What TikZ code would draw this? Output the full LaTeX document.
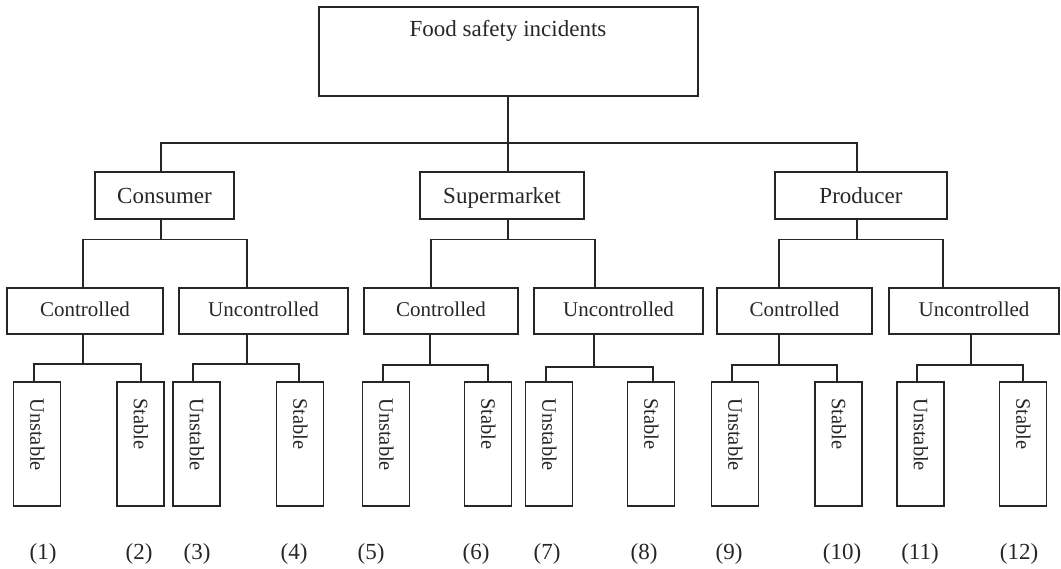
\documentclass[tikz,border=0pt]{standalone}
\usepackage{fontspec}
\setmainfont{Liberation Serif}
\definecolor{ink}{HTML}{262626}
\begin{document}
\begin{tikzpicture}[x=1pt,y=-1pt,
  box/.style={draw=ink, line width=1.6pt, inner sep=0pt, text=ink},
  topbox/.style={box, font=\fontsize{23}{27}\selectfont, minimum height=47pt,
    text height=17pt, text depth=0pt},
  midbox/.style={box, font=\fontsize{21}{25}\selectfont, minimum height=46pt,
    text height=15pt, text depth=3pt},
  leafbox/.style={box, minimum width=47pt, minimum height=124pt},
  leaftxt/.style={rotate=-90, anchor=west, inner sep=0pt, text=ink,
    font=\fontsize{20.5}{24}\selectfont},
  numtxt/.style={inner sep=0pt, text=ink, anchor=base, font=\fontsize{23}{27}\selectfont},
  conn/.style={draw=ink, line width=1.6pt}]
\useasboundingbox (0,0) rectangle (1061,569);

% top
\node[box, minimum width=379pt, minimum height=89pt] (top) at (508.5,51.5) {};
\node[inner sep=0pt, text=ink, anchor=base, font=\fontsize{23}{27}\selectfont] (toptxt) at (508,37) {Food safety incidents};

% level 1
\node[topbox, minimum width=139pt] (cons) at (164.5,195.5) {Consumer};
\node[topbox, minimum width=164pt] (sup) at (502,195.5) {Supermarket};
\node[topbox, minimum width=172pt] (prod) at (861,195.5) {Producer};

% level 2
\node[midbox, minimum width=156pt] (c1) at (85,311) {Controlled};
\node[midbox, minimum width=169pt] (u1) at (263.5,311) {Uncontrolled};
\node[midbox, minimum width=154pt] (c2) at (441,311) {Controlled};
\node[midbox, minimum width=169pt] (u2) at (618.5,311) {Uncontrolled};
\node[midbox, minimum width=155pt] (c3) at (794.5,311) {Controlled};
\node[midbox, minimum width=170pt] (u3) at (974,311) {Uncontrolled};

% level 3
\foreach \n/\x/\t in {l1/37/Unstable, l2/140.5/Stable, l3/196.5/Unstable, l4/300/Stable,
  l5/386/Unstable, l6/488/Stable, l7/549/Unstable, l8/651/Stable,
  l9/735/Unstable, l10/838.5/Stable, l11/920.5/Unstable, l12/1023/Stable}{
  \node[leafbox] (\n) at (\x,444) {};
  \node[leaftxt] (\n t) at (\x+0.5,398) {\t};
}

% numbers
\foreach \n/\x in {1/43, 2/139, 3/197, 4/294, 5/371, 6/476, 7/547, 8/644, 9/729, 10/842, 11/920, 12/1019}{
  \node[numtxt] (n\n) at (\x,559) {(\n)};
}

% junctions
\coordinate (j0) at (508,143);
\coordinate (ja) at (161,239.5);
\coordinate (jb) at (508,239.5);
\coordinate (jc) at (857,239.5);
\coordinate (k1) at (83,364);
\coordinate (k2) at (247,364);
\coordinate (k3) at (430,365);
\coordinate (k4) at (594,367);
\coordinate (k5) at (779,365);
\coordinate (k6) at (971,365);

% connectors
\draw[conn] (j0 |- top.south) -- (j0) -- (j0 |- sup.north);
\draw[conn] (ja |- cons.north) |- (j0) -| (jc |- prod.north);

\draw[conn] (ja |- cons.south) -- (ja);
\draw[conn] (c1.north -| 83,0) |- (ja) -| (u1.north -| 247,0);
\draw[conn] (jb |- sup.south) -- (jb);
\draw[conn] (c2.north -| 431,0) |- (jb) -| (u2.north -| 595,0);
\draw[conn] (jc |- prod.south) -- (jc);
\draw[conn] (c3.north -| 779,0) |- (jc) -| (u3.north -| 943,0);

\draw[conn] (k1 |- c1.south) -- (k1);
\draw[conn] (l1.north -| 34,0) |- (k1) -| (l2.north -| 141,0);
\draw[conn] (k2 |- u1.south) -- (k2);
\draw[conn] (l3.north -| 193,0) |- (k2) -| (l4.north -| 299,0);
\draw[conn] (k3 |- c2.south) -- (k3);
\draw[conn] (l5.north -| 383,0) |- (k3) -| (l6.north -| 488,0);
\draw[conn] (k4 |- u2.south) -- (k4);
\draw[conn] (l7.north -| 546,0) |- (k4) -| (l8.north -| 653,0);
\draw[conn] (k5 |- c3.south) -- (k5);
\draw[conn] (l9.north -| 732,0) |- (k5) -| (l10.north -| 837,0);
\draw[conn] (k6 |- u3.south) -- (k6);
\draw[conn] (l11.north -| 917,0) |- (k6) -| (l12.north -| 1023,0);
\end{tikzpicture}
\end{document}
